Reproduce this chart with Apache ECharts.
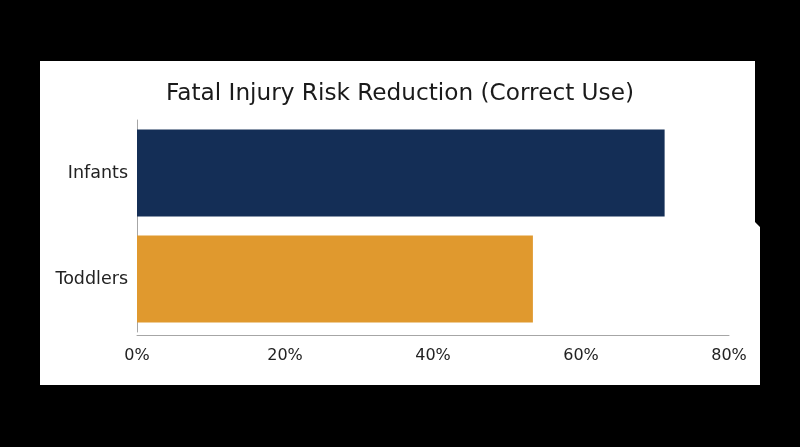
<!DOCTYPE html>
<html><head><meta charset="utf-8">
<script src="https://cdn.jsdelivr.net/npm/echarts@6/dist/echarts.min.js"></script>
<style>html,body{margin:0;padding:0;background:#000;}#c{width:800px;height:447px;}</style>
</head><body><div id="c"></div>
<script>
var categories = ['Infants', 'Toddlers'];
var values = [71.3, 53.5];
var barColors = ['#142e56', '#e0992e'];
var xTicks = [0, 20, 40, 60, 80];
var FONT = 'DejaVu Sans';
var chart = echarts.init(document.getElementById('c'));
chart.setOption({
  backgroundColor: '#000',
  animation: false,
  graphic: [{
    type: 'polygon', z: -10,
    shape: { points: [[40,61],[755,61],[755,222],[760,227],[760,385],[40,385]] },
    style: { fill: '#fff' }
  }],
  title: {
    text: 'Fatal Injury Risk Reduction (Correct Use)',
    left: 'center', top: 77,
    textStyle: { fontFamily: FONT, fontSize: 23.2, fontWeight: 'normal', color: '#1a1a1a' }
  },
  grid: { left: 137, right: 71, top: 120, bottom: 115 },
  xAxis: {
    type: 'value', min: 0, max: 80, interval: 20, offset: 3,
    axisLine: { show: true, lineStyle: { color: '#a6a6a6', width: 1 } },
    axisTick: { show: false },
    splitLine: { show: false },
    axisLabel: { formatter: '{value}%', fontFamily: FONT, fontSize: 16, color: '#222', margin: 13 }
  },
  yAxis: {
    type: 'category', data: categories, inverse: true,
    axisLine: { show: true, lineStyle: { color: '#a6a6a6', width: 1 } },
    axisTick: { show: false },
    axisLabel: { fontFamily: FONT, fontSize: 17.5, color: '#222', margin: 9 }
  },
  series: [{
    type: 'bar', barWidth: 87,
    data: values.map(function (v, i) { return { value: v, itemStyle: { color: barColors[i] } }; })
  }]
});
</script></body></html>
